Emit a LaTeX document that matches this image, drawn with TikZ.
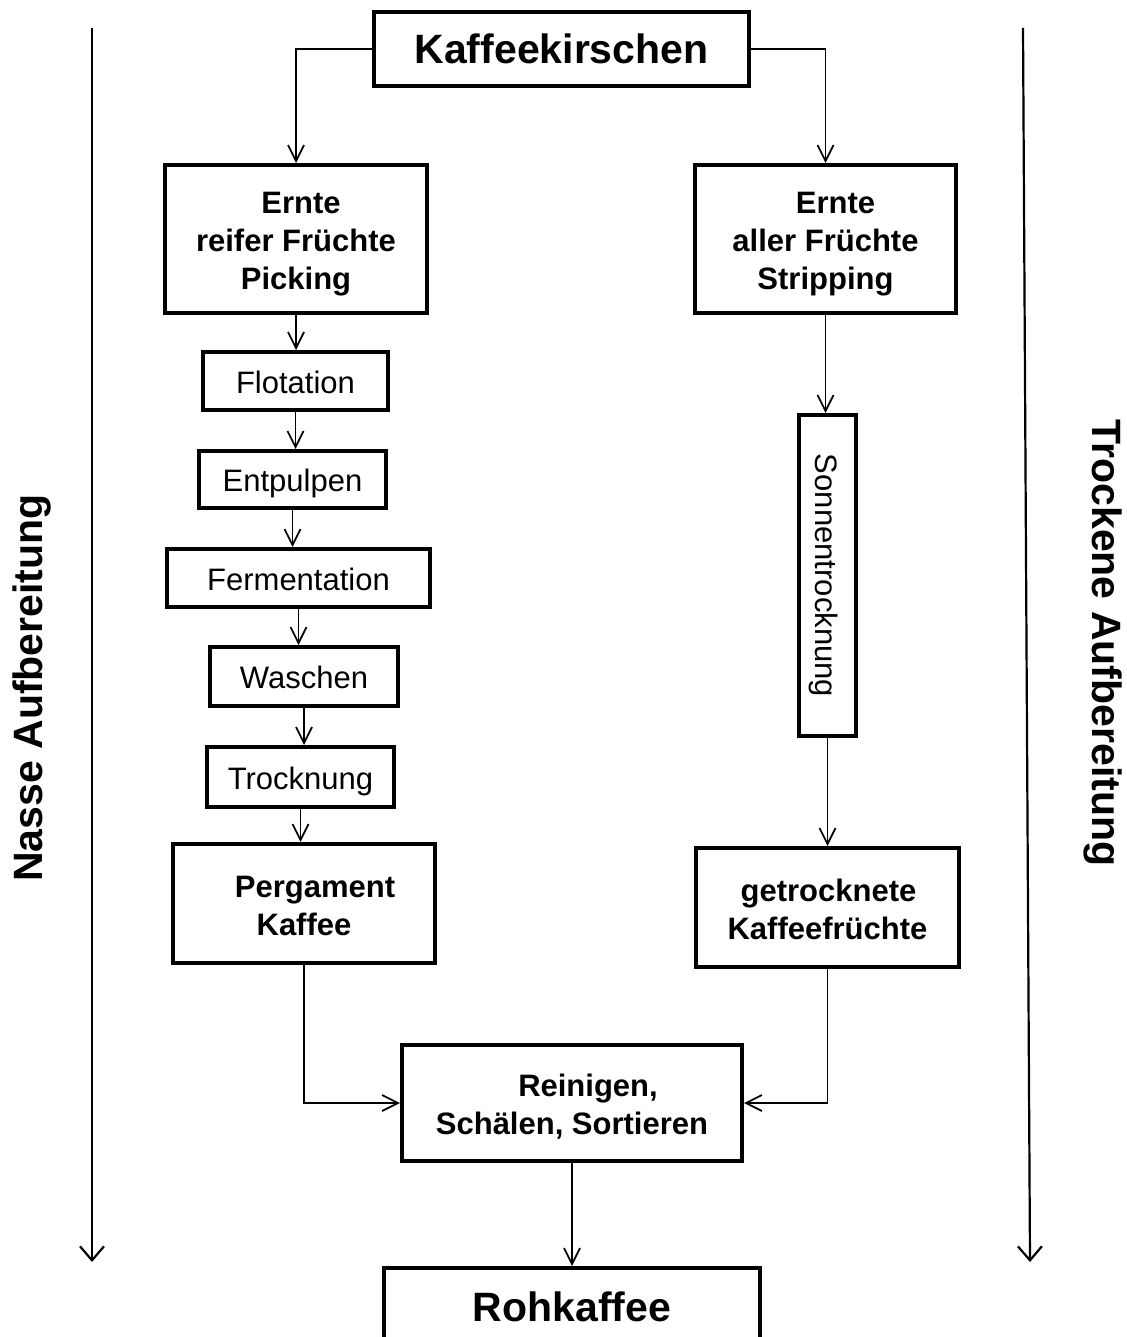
\documentclass[tikz,border=0pt]{standalone}
\usepackage{fontspec}
\setmainfont{Liberation Sans}
\usetikzlibrary{arrows.meta}
\newcommand{\topstrut}[1]{\rule{0pt}{#1}}
\begin{document}
\begin{tikzpicture}[x=1pt,y=-1pt,
  box/.style={draw, line width=4pt, inner sep=0pt, align=center},
  bigtxt/.style={font=\fontsize{41}{48}\selectfont\bfseries},
  boldtxt/.style={font=\fontsize{31}{38}\selectfont\bfseries},
  regtxt/.style={font=\fontsize{31}{38}\selectfont, text height=26pt, text depth=2pt},
  arr/.style={line width=1.7pt, -{Straight Barb[length=16pt,width=16pt]}},
  side/.style={line width=2.2pt, -{Straight Barb[length=14pt,width=24pt]}}]
\useasboundingbox (0,0) rectangle (1126,1337);
\clip (0,0) rectangle (1126,1337);

\node[box,bigtxt,minimum width=375,minimum height=74] (kk) at (561.5,49) {Kaffeekirschen};
\node[box,boldtxt,minimum width=262,minimum height=148] (el) at (296,239) {\topstrut{31pt}\hspace*{10pt}Ernte\\reifer Früchte\\Picking};
\node[box,boldtxt,minimum width=261,minimum height=148] (er) at (825.5,239) {\topstrut{31pt}\hspace*{20pt}Ernte\\aller Früchte\\Stripping};
\node[box,regtxt,minimum width=185,minimum height=58] (flo) at (295.5,381) {Flotation};
\node[box,regtxt,minimum width=187,minimum height=57] (ent) at (292.5,479.5) {Entpulpen};
\node[box,regtxt,minimum width=263,minimum height=58] (fer) at (298.5,578) {Fermentation};
\node[box,regtxt,minimum width=188,minimum height=59] (wa) at (304,676.5) {Waschen};
\node[box,regtxt,minimum width=187,minimum height=60] (tr) at (300.5,777) {Trocknung};
\node[box,boldtxt,minimum width=262,minimum height=119] (perg) at (304,903.5) {\topstrut{27pt}\hspace*{22pt}Pergament\\Kaffee};
\node[box,regtxt,rotate=-90,minimum width=321,minimum height=57] (son) at (827.5,575.5) {Sonnentrocknung};
\node[box,boldtxt,minimum width=263,minimum height=119] (getr) at (827.5,907.5) {\topstrut{26pt}\hspace*{2pt}getrocknete\\Kaffeefrüchte};
\node[box,boldtxt,minimum width=340,minimum height=116] (rein) at (572,1103) {\topstrut{29pt}\hspace*{32pt}Reinigen,\\Schälen, Sortieren};
\node[box,bigtxt,minimum width=376,minimum height=78] (roh) at (572,1307) {Rohkaffee};

\node[bigtxt,rotate=90] (nasse) at (32,688) {Nasse Aufbereitung};
\node[bigtxt,rotate=-90] (trocken) at (1103,643) {Trockene Aufbereitung};

\coordinate (na1) at (92,28);
\coordinate (na2) at (92,1262);
\coordinate (ta1) at (1023,28);
\coordinate (ta2) at (1030,1262);
\draw[side] (na1) -- (na2);
\draw[side] (ta1) -- (ta2);

\draw[arr] (kk.west) -| (el.north);
\draw[arr] (kk.east) -| (er.north);
\draw[arr] (el.south) -- (el.south |- flo.north);
\draw[arr] (flo.south) -- (flo.south |- ent.north);
\draw[arr] (ent.south) -- (ent.south |- fer.north);
\draw[arr] (fer.south) -- (fer.south |- wa.north);
\draw[arr] (wa.south) -- (wa.south |- tr.north);
\draw[arr] (tr.south) -- (tr.south |- perg.north);
\draw[arr] (er.south) -- (er.south |- son.west);
\draw[arr] (son.east) -- (son.east |- getr.north);
\draw[arr] (perg.south) |- (rein.west);
\draw[arr] (getr.south) |- (rein.east);
\draw[arr] (rein.south) -- (rein.south |- roh.north);
\end{tikzpicture}
\end{document}
